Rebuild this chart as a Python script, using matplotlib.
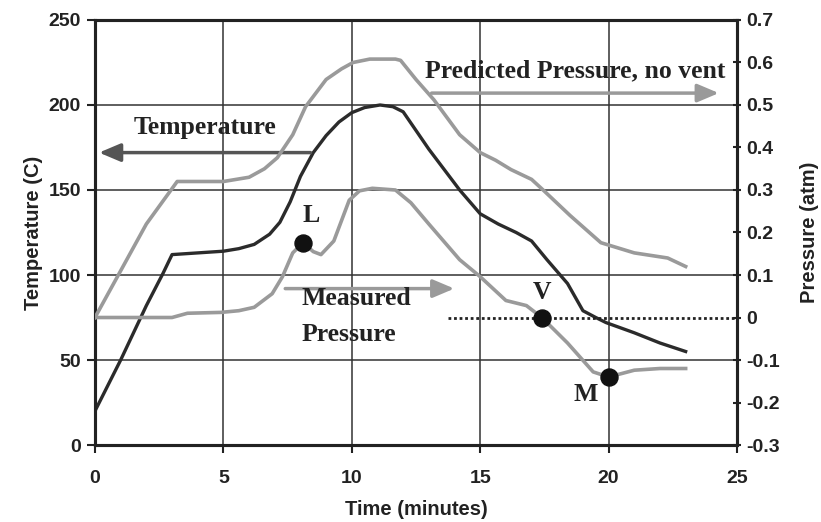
import numpy as np
import matplotlib
matplotlib.use("Agg")
import matplotlib.pyplot as plt

# Temperature (C) vs time (min)
temp_t = [0, 1, 2, 2.65, 3.0, 4, 5, 5.6, 6.2, 6.8, 7.2, 7.6, 8.0, 8.5, 9, 9.5, 10, 10.5, 11.1, 11.6, 12.0, 12.5, 13, 13.6, 14.2, 15, 15.7, 16.4, 17.0, 17.6, 18.4, 19.0, 19.5, 19.9, 21, 22, 23]
temp_v = [20, 50, 82, 101, 112, 113, 114, 115.5, 118, 124, 131, 143, 158, 172, 182, 190, 195.5, 198.5, 200, 199, 196, 185, 174, 162, 150, 136, 130, 125, 120, 109, 95, 79, 75, 72, 66, 60, 55]

# Predicted pressure, no vent (atm)
pred_t = [0, 1, 2, 3.2, 4, 5, 6.0, 6.6, 7.1, 7.7, 8.2, 9, 9.6, 10.05, 10.7, 11.7, 11.9, 12.5, 13.2, 14.2, 15, 15.6, 16.2, 17.0, 17.45, 18.5, 19.7, 21, 22.3, 23]
pred_p = [0.0, 0.11, 0.22, 0.32, 0.32, 0.32, 0.33, 0.35, 0.376, 0.43, 0.496, 0.56, 0.585, 0.60, 0.608, 0.608, 0.605, 0.56, 0.512, 0.43, 0.388, 0.37, 0.348, 0.325, 0.30, 0.24, 0.176, 0.152, 0.14, 0.12]

# Measured pressure (atm)
meas_t = [0, 1, 2, 3.0, 3.6, 4.9, 5.6, 6.2, 6.9, 7.3, 7.7, 8.1, 8.5, 8.8, 9.3, 9.9, 10.3, 10.8, 11.7, 12.3, 13, 14.2, 15, 16, 16.8, 17.4, 18.4, 19.4, 20.0, 21, 22, 23]
meas_p = [0.0, 0.0, 0.0, 0.0, 0.01, 0.012, 0.016, 0.024, 0.056, 0.096, 0.152, 0.176, 0.155, 0.148, 0.18, 0.276, 0.298, 0.304, 0.30, 0.27, 0.22, 0.136, 0.096, 0.04, 0.028, 0.0, -0.06, -0.128, -0.14, -0.124, -0.12, -0.12]

# marked points (time, pressure)
dot_t = [8.1, 17.4, 20.0]
dot_p = [0.176, 0.0, -0.14]
dot_lbl = ["L", "V", "M"]

dark = "#2b2b2b"
light = "#9a9a9a"
serif = ["Liberation Serif", "DejaVu Serif"]
sans = ["Liberation Sans", "DejaVu Sans"]

fig = plt.figure(figsize=(8.21, 5.22), dpi=100)
ax = fig.add_axes([0.1157, 0.1475, 0.782, 0.8142])
ax2 = ax.twinx()

ax.set_xlim(0, 25)
ax.set_ylim(0, 250)
ax2.set_ylim(-0.3, 0.7)
ax.set_xticks([0, 5, 10, 15, 20, 25])
ax.set_yticks([0, 50, 100, 150, 200, 250])
ax2.set_yticks(np.round(np.arange(-0.3, 0.71, 0.1), 1))
ax2.set_yticklabels(["-0.3", "-0.2", "-0.1", "0", "0.1", "0.2", "0.3", "0.4", "0.5", "0.6", "0.7"])

ax.grid(True, color="#333333", linewidth=1.1)
ax.set_axisbelow(True)
for s in list(ax.spines.values()) + list(ax2.spines.values()):
    s.set_linewidth(2.2)
    s.set_color("#222222")

tick_kw = dict(labelsize=14, colors="#222222", width=1.5, length=6)
ax.tick_params(axis="x", direction="out", pad=12, **tick_kw)
ax.tick_params(axis="y", direction="out", pad=4, **tick_kw)
ax2.tick_params(axis="y", direction="inout", pad=4, **tick_kw)
for lab in ax.get_xticklabels() + ax.get_yticklabels() + ax2.get_yticklabels():
    lab.set_family(sans)
    lab.set_fontweight("bold")

lab_kw = dict(fontsize=14.5, family=sans, fontweight="bold", color="#222222")
ax.set_xlabel("Time (minutes)", labelpad=9, **lab_kw)
ax.set_ylabel("Temperature (C)", labelpad=4, **lab_kw)
ax2.set_ylabel("Pressure (atm)", labelpad=14, **lab_kw)

# curves
ax.plot(temp_t, temp_v, color=dark, linewidth=2.4, zorder=3)
ax2.plot(pred_t, pred_p, color=light, linewidth=2.6, zorder=3)
ax2.plot(meas_t, meas_p, color=light, linewidth=2.6, zorder=3)
ax2.plot([13.75, 25], [0, 0], color="#222222", linestyle=(0, (1.0, 1.0)), linewidth=2, zorder=3)
ax2.scatter(dot_t, dot_p, s=150, color="#111111", zorder=5)

# annotations
txt = dict(family=serif, fontweight="bold", fontsize=18.5, color="#222222")
ax.annotate("", xy=(0.05, 172), xytext=(8.5, 172),
            arrowprops=dict(arrowstyle="-|>,head_length=1.3,head_width=0.55", color="#555555", lw=2.5))
ax.text(4.3, 187, "Temperature", ha="center", va="center", **txt)
ax.annotate("", xy=(24.4, 207), xytext=(13.0, 207),
            arrowprops=dict(arrowstyle="-|>,head_length=1.3,head_width=0.55", color=light, lw=2.5))
ax.text(18.7, 220, "Predicted Pressure, no vent", ha="center", va="center", **txt)
ax.annotate("", xy=(14.1, 92), xytext=(7.3, 92),
            arrowprops=dict(arrowstyle="-|>,head_length=1.3,head_width=0.55", color=light, lw=2.5))
ax.text(8.05, 86, "Measured", ha="left", va="center", **txt)
ax.text(8.05, 65, "Pressure", ha="left", va="center", **txt)

offs = [(0.3, 0.065), (0.0, 0.06), (-0.9, -0.04)]
for t, p, l, (dx, dy) in zip(dot_t, dot_p, dot_lbl, offs):
    ax2.text(t + dx, p + dy, l, ha="center", va="center", **txt)

fig.savefig("out.png", dpi=100)
